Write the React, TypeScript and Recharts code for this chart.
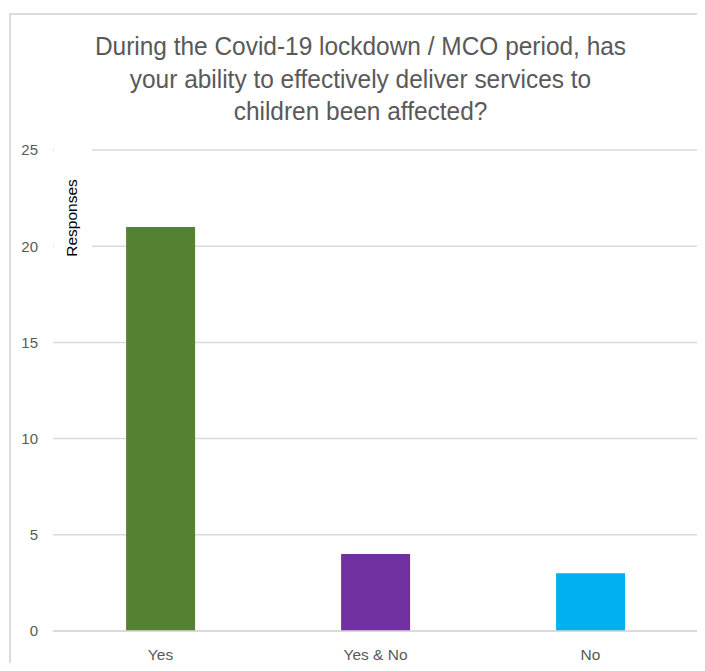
import { Bar, BarChart, CartesianGrid, Cell, XAxis, YAxis } from "recharts"

const categories = ["Yes", "Yes & No", "No"]
const responses = [21, 4, 3]
const yTicks = [0, 5, 10, 15, 20, 25]

const COLORS = ["#548235", "#7030A0", "#00B0F0"]

const data = categories.map((name, i) => ({ name, responses: responses[i] }))

const FONT = '"Liberation Sans", Arial, sans-serif'

export default function App() {
  return (
    <div
      style={{
        position: "relative",
        margin: -8,
        width: 705,
        height: 671,
        overflow: "hidden",
        background: "#fff",
        fontFamily: FONT,
      }}
    >
      {/* chart frame: only left and top edges show in the crop */}
      <div style={{ position: "absolute", left: 9, top: 13, width: 2, height: 660, background: "#dcdcdc" }} />
      <div style={{ position: "absolute", left: 9, top: 13, width: 700, height: 2, background: "#dcdcdc" }} />
      <div
        style={{
          position: "absolute",
          left: 8,
          top: 30,
          width: 705,
          textAlign: "center",
          fontSize: 26,
          lineHeight: "32.5px",
          color: "#595959",
          transform: "scaleX(0.94)",
        }}
      >
        During the Covid-19 lockdown / MCO period, has
        <br />
        your ability to effectively deliver services to
        <br />
        children been affected?
      </div>
      <div style={{ position: "absolute", left: 0, top: 0 }}>
        <BarChart
          width={705}
          height={671}
          data={data}
          margin={{ top: 150, right: 7, bottom: 10, left: 0 }}
          barCategoryGap="34%"
        >
          <CartesianGrid vertical={false} stroke="#d9d9d9" strokeWidth={1.5} />
          <XAxis
            dataKey="name"
            height={30}
            stroke="#d9d9d9"
            strokeWidth={1.5}
            tickLine={false}
            tickSize={0}
            tickMargin={18}
            tick={{ fill: "#595959", fontSize: 15.5, fontFamily: FONT }}
          />
          <YAxis
            width={53}
            domain={[0, 25]}
            ticks={yTicks}
            axisLine={false}
            tickLine={false}
            tickSize={0}
            tickMargin={15}
            tick={{ fill: "#595959", fontSize: 15, fontFamily: FONT }}
          />
          <Bar dataKey="responses" isAnimationActive={false}>
            {data.map((entry, index) => (
              <Cell key={`cell-${index}`} fill={COLORS[index % COLORS.length]} />
            ))}
          </Bar>
        </BarChart>
      </div>
      {/* axis title box, covers the start of the top gridlines like in Excel */}
      <div
        style={{
          position: "absolute",
          left: 54,
          top: 140,
          width: 38,
          height: 112,
          background: "#fff",
        }}
      />
      <div
        style={{
          position: "absolute",
          left: 72,
          top: 218,
          transform: "translate(-50%, -50%) rotate(-90deg)",
          fontSize: 15.5,
          color: "#000",
          whiteSpace: "nowrap",
        }}
      >
        Responses
      </div>
    </div>
  )
}
